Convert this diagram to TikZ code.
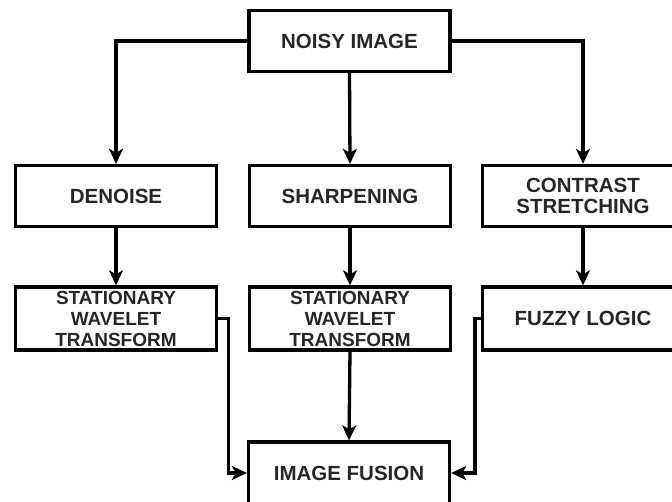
\documentclass[tikz,border=0pt]{standalone}
\usepackage{fontspec}
\setmainfont{Liberation Sans}
\usetikzlibrary{arrows.meta}
\tikzstyle{blockNode}=[draw, line width=3.3pt, rectangle, minimum width=201pt, minimum height=61pt, inner sep=0pt, align=center, font=\fontsize{20.5}{21.5}\selectfont\bfseries, text=black!85]
\tikzstyle{flowArrow}=[line width=3.3pt, -{Stealth[length=15pt,width=14pt,inset=4pt]}]

\begin{document}
\begin{tikzpicture}[x=1pt, y=-1pt]
    \clip (0,0) rectangle (672,502);
    \fill[white] (0,0) rectangle (672,502);

    \node[blockNode] (noisy) at (349.5, 41) {NOISY IMAGE};
    \node[blockNode] (denoise) at (116, 196) {DENOISE};
    \node[blockNode] (sharpen) at (350, 196) {SHARPENING};
    \node[blockNode] (contrast) at (583, 196) {CONTRAST\\STRETCHING};
    \node[blockNode, minimum height=63pt, font=\fontsize{19}{21}\selectfont\bfseries] (swtA) at (116, 318.5) {STATIONARY\\WAVELET\\TRANSFORM};
    \node[blockNode, minimum height=63pt, font=\fontsize{19}{21}\selectfont\bfseries] (swtB) at (350, 318.5) {STATIONARY\\WAVELET\\TRANSFORM};
    \node[blockNode, minimum height=63pt] (fuzzy) at (583, 318.5) {FUZZY LOGIC};
    \node[blockNode, minimum height=62pt] (fusion) at (349, 473) {IMAGE FUSION};

    % Arrows
    \draw[flowArrow] (noisy.west) -| (denoise.north);
    \draw[flowArrow] (noisy.south) -- (sharpen.north);
    \draw[flowArrow] (noisy.east) -| (contrast.north);
    \draw[flowArrow] (denoise.south) -- (swtA.north);
    \draw[flowArrow] (sharpen.south) -- (swtB.north);
    \draw[flowArrow] (contrast.south) -- (fuzzy.north);
    \draw[flowArrow] (swtA.east) -- ++(10,0) |- (fusion.west);
    \draw[flowArrow] (swtB.south) -- (fusion.north);
    \draw[flowArrow] (fuzzy.west) -- ++(-6,0) |- (fusion.east);

\end{tikzpicture}
\end{document}
